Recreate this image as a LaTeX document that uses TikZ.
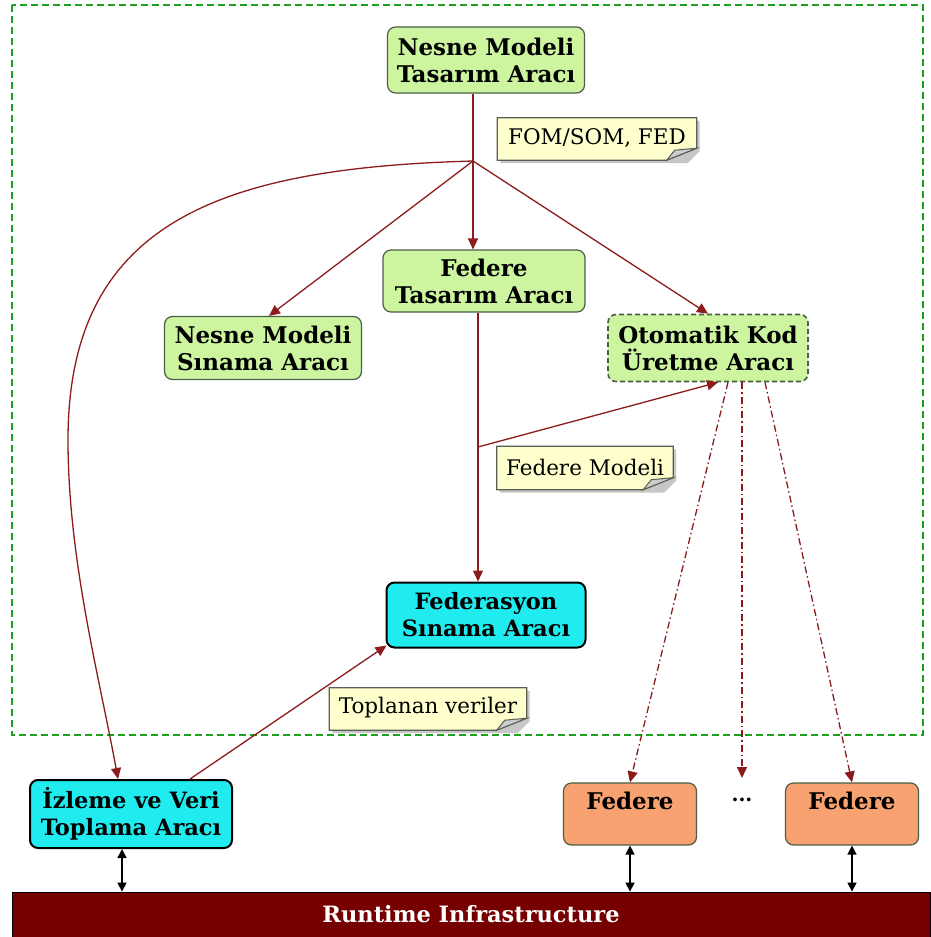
\documentclass[tikz,border=0pt]{standalone}
\usepackage{fontspec}
\setmainfont{DejaVu Serif}
\usetikzlibrary{arrows.meta,calc}
\definecolor{boxgreen}{RGB}{205,245,160}
\definecolor{boxgreenline}{RGB}{75,95,70}
\definecolor{boxcyan}{RGB}{32,236,240}
\definecolor{boxorange}{RGB}{247,162,112}
\definecolor{arrowred}{RGB}{140,28,28}
\definecolor{rtired}{RGB}{118,0,0}
\definecolor{framegreen}{RGB}{30,160,30}
\definecolor{noteyellow}{RGB}{255,255,206}
\definecolor{notegray}{RGB}{90,95,85}
\tikzset{
  tool/.style={draw=boxgreenline, line width=1.2pt, fill=boxgreen, rounded corners=8pt,
    align=center, font=\fontsize{23}{27}\selectfont\bfseries, inner sep=0pt},
  dashtool/.style={tool, dashed, dash pattern=on 5pt off 3pt, line width=1.6pt},
  cyantool/.style={draw=black, line width=2pt, fill=boxcyan, rounded corners=8pt,
    align=center, font=\fontsize{22.5}{27}\selectfont\bfseries, inner sep=0pt},
  fedbox/.style={draw=boxgreenline, line width=1.2pt, fill=boxorange, rounded corners=8pt,
    font=\fontsize{23}{27}\selectfont\bfseries, inner xsep=0pt, inner ysep=6pt,
    text height=20pt, text depth=30pt, minimum width=133pt},
  notetext/.style={font=\fontsize{21.5}{25}\selectfont, inner sep=0pt},
  rel/.style={draw=arrowred, line width=1.3pt},
  relarrow/.style={rel, -{Triangle[width=10pt,length=11pt]}},
  gen/.style={relarrow, dash pattern=on 7pt off 3pt on 1.5pt off 3pt},
  link/.style={draw=black, line width=1.5pt, {Triangle[width=9pt,length=9pt]}-{Triangle[width=9pt,length=9pt]}},
}
\begin{document}
\begin{tikzpicture}[x=1pt,y=-1pt]
\useasboundingbox (0,0) rectangle (930,937);
\fill[white] (0,0) rectangle (930,937);
% frame
\draw[framegreen, line width=1.4pt, dash pattern=on 7pt off 4pt] (12,5) rectangle (923,735);
% tool nodes
\node[tool, minimum width=197pt, minimum height=66pt] (nmta) at (486,60) {Nesne Modeli\\Tasarım Aracı};
\node[tool, minimum width=202pt, minimum height=62pt] (fta) at (484,281) {Federe\\Tasarım Aracı};
\node[tool, minimum width=197pt, minimum height=63pt] (nmsa) at (263,348) {Nesne Modeli\\Sınama Aracı};
\node[dashtool, minimum width=200pt, minimum height=67pt] (okua) at (708,348) {Otomatik Kod\\Üretme Aracı};
\node[cyantool, minimum width=199pt, minimum height=65pt] (fsa) at (486,615) {Federasyon\\Sınama Aracı};
\node[cyantool, minimum width=202pt, minimum height=68pt] (izle) at (131,814) {İzleme ve Veri\\Toplama Aracı};
\node[fedbox] (fed1) at (630,814) {Federe};
\node[fedbox] (fed2) at (852,814) {Federe};
\node[font=\fontsize{20}{23}\selectfont\bfseries] (dots) at (742,800) {...};
% RTI bar
\node[fill=rtired, draw=black, line width=0.8pt, minimum width=918pt, minimum height=45pt, inner sep=0pt,
  text=white, font=\fontsize{22.5}{26}\selectfont\bfseries] (rti) at (471,914.5) {Runtime Infrastructure};
% notes (geometry)
\node[notetext, minimum width=199pt, minimum height=42pt] (n1) at (597,139) {};
\node[notetext, minimum width=176pt, minimum height=43pt] (n2) at (585,468) {};
\node[notetext, minimum width=197pt, minimum height=42pt] (n3) at (428,709) {};
\foreach \n in {n1,n2,n3}{
  \fill[black!22] ([shift={(3pt,-3pt)}]\n.north west) -- ([shift={(3pt,-3pt)}]\n.north east)
     -- ([shift={(3pt,9pt)}]\n.south east) -- ([shift={(-9pt,-3pt)}]\n.south east)
     -- ([shift={(3pt,-3pt)}]\n.south west) -- cycle;
  \filldraw[fill=noteyellow, draw=notegray, line width=1.2pt] (\n.north west) -- (\n.north east)
     -- ([yshift=12pt]\n.south east) -- ([xshift=-30pt]\n.south east) -- (\n.south west) -- cycle;
  \filldraw[fill=black!20, draw=notegray, line width=1pt] ([yshift=12pt]\n.south east)
     -- ([shift={(-30pt,0pt)}]\n.south east) -- ([shift={(-22pt,10pt)}]\n.south east) -- cycle;
}
\node[notetext] (t1) at ([yshift=1pt]n1) {FOM/SOM, FED};
\node[notetext] (t2) at ([yshift=1pt]n2) {Federe Modeli};
\node[notetext] (t3) at ([yshift=1pt]n3) {Toplanan veriler};
% junctions
\coordinate (j1) at (473,161);
\coordinate (j2) at (478,447);
\coordinate (dotsend) at (742,778);
% connectors
\draw[rel] (j1 |- nmta.south) -- (j1);
\draw[relarrow] (j1) -- (j1 |- fta.north);
\draw[relarrow] (j1) -- ([xshift=6pt]nmsa.north);
\draw[relarrow] (j1) -- (okua.north);
\draw[relarrow] (j1) .. controls (220,168) and (68,222) .. (68,440)
   .. controls (68,560) and (100,680) .. ([xshift=-13pt]izle.north);
\draw[rel] (j2 |- fta.south) -- (j2);
\draw[relarrow] (j2) -- (j2 |- fsa.north);
\draw[relarrow] (j2) -- ([xshift=10pt]okua.south);
\draw[relarrow] ([xshift=59pt]izle.north) -- ([shift={(1pt,3pt)}]fsa.south west);
\draw[gen] ([xshift=20pt]okua.south) -- (fed1.north);
\draw[gen] ([xshift=34pt]okua.south) -- (dotsend);
\draw[gen] ([xshift=57pt]okua.south) -- (fed2.north);
\draw[link] ([xshift=-9pt]izle.south) -- ([xshift=-9pt]izle.south |- rti.north);
\draw[link] (fed1.south) -- (fed1.south |- rti.north);
\draw[link] (fed2.south) -- (fed2.south |- rti.north);
\end{tikzpicture}
\end{document}
